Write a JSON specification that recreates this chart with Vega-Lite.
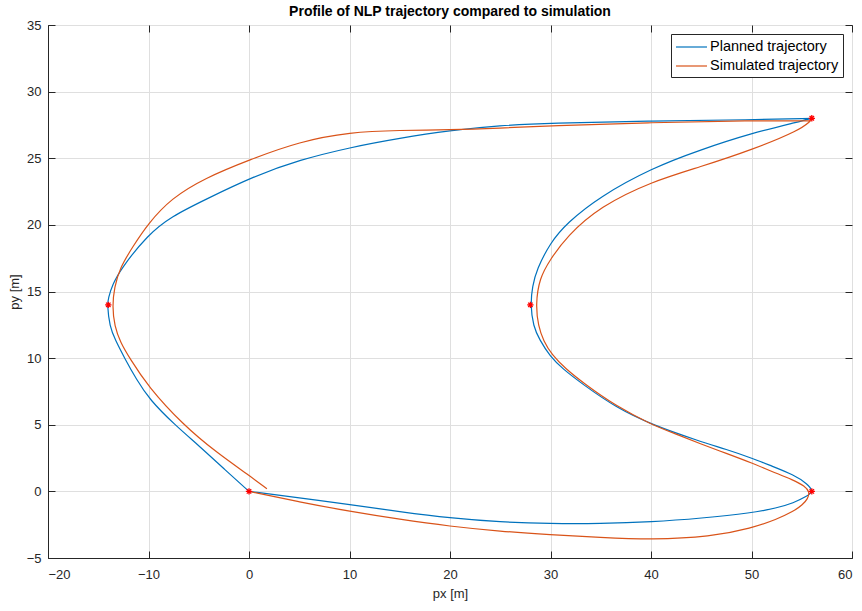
{
  "$schema": "https://vega.github.io/schema/vega-lite/v6.json",
  "width": 804,
  "height": 533,
  "autosize": "none",
  "padding": {"left": 48, "top": 25, "right": 10, "bottom": 53},
  "background": "white",
  "title": {"text": "Profile of NLP trajectory compared to simulation", "fontSize": 14, "font": "Liberation Sans", "fontWeight": "bold", "color": "#000000", "offset": 0, "anchor": "middle"},
  "config": {
    "view": {"stroke": "#262626", "strokeWidth": 1},
    "font": "Liberation Sans",
    "axis": {"labelFontSize": 13, "labelColor": "#262626", "domainColor": "#262626", "tickColor": "#262626", "gridColor": "#DFDFDF", "titleFontSize": 13, "titleFontWeight": "normal", "titleColor": "#262626", "labelFont": "Liberation Sans", "titleFont": "Liberation Sans"}
  },
  "datasets": {
    "traj": [
      {"s": "Planned trajectory", "i": 0, "x": 0, "y": 0},
      {"s": "Planned trajectory", "i": 1, "x": 5, "y": -0.48},
      {"s": "Planned trajectory", "i": 2, "x": 10.03, "y": -1.0},
      {"s": "Planned trajectory", "i": 3, "x": 15, "y": -1.52},
      {"s": "Planned trajectory", "i": 4, "x": 19.99, "y": -2.0},
      {"s": "Planned trajectory", "i": 5, "x": 25, "y": -2.3},
      {"s": "Planned trajectory", "i": 6, "x": 29.95, "y": -2.42},
      {"s": "Planned trajectory", "i": 7, "x": 34.93, "y": -2.42},
      {"s": "Planned trajectory", "i": 8, "x": 40.08, "y": -2.3},
      {"s": "Planned trajectory", "i": 9, "x": 45, "y": -2.02},
      {"s": "Planned trajectory", "i": 10, "x": 50.04, "y": -1.62},
      {"s": "Planned trajectory", "i": 11, "x": 52.5, "y": -1.25},
      {"s": "Planned trajectory", "i": 12, "x": 54.18, "y": -0.87},
      {"s": "Planned trajectory", "i": 13, "x": 55.52, "y": -0.37},
      {"s": "Planned trajectory", "i": 14, "x": 56.15, "y": 0},
      {"s": "Planned trajectory", "i": 15, "x": 55.6, "y": 0.55},
      {"s": "Planned trajectory", "i": 16, "x": 54.18, "y": 1.25},
      {"s": "Planned trajectory", "i": 17, "x": 52, "y": 1.9},
      {"s": "Planned trajectory", "i": 18, "x": 50.04, "y": 2.5},
      {"s": "Planned trajectory", "i": 19, "x": 47.5, "y": 3.15},
      {"s": "Planned trajectory", "i": 20, "x": 44.89, "y": 3.75},
      {"s": "Planned trajectory", "i": 21, "x": 40.08, "y": 5.0},
      {"s": "Planned trajectory", "i": 22, "x": 36.5, "y": 6.3},
      {"s": "Planned trajectory", "i": 23, "x": 33.27, "y": 8.0},
      {"s": "Planned trajectory", "i": 24, "x": 31.2, "y": 9.2},
      {"s": "Planned trajectory", "i": 25, "x": 29.95, "y": 10.13},
      {"s": "Planned trajectory", "i": 26, "x": 28.9, "y": 11.4},
      {"s": "Planned trajectory", "i": 27, "x": 28.29, "y": 12.38},
      {"s": "Planned trajectory", "i": 28, "x": 28.0, "y": 14.0},
      {"s": "Planned trajectory", "i": 29, "x": 28.2, "y": 15.4},
      {"s": "Planned trajectory", "i": 30, "x": 28.62, "y": 16.63},
      {"s": "Planned trajectory", "i": 31, "x": 29.95, "y": 18.63},
      {"s": "Planned trajectory", "i": 32, "x": 31.61, "y": 20.13},
      {"s": "Planned trajectory", "i": 33, "x": 34.92, "y": 22.13},
      {"s": "Planned trajectory", "i": 34, "x": 40.08, "y": 24.26},
      {"s": "Planned trajectory", "i": 35, "x": 44.89, "y": 25.63},
      {"s": "Planned trajectory", "i": 36, "x": 50.04, "y": 26.89},
      {"s": "Planned trajectory", "i": 37, "x": 54.8, "y": 27.76},
      {"s": "Planned trajectory", "i": 38, "x": 56, "y": 28},
      {"s": "Planned trajectory", "i": 39, "x": 56, "y": 28},
      {"s": "Planned trajectory", "i": 40, "x": 56, "y": 28},
      {"s": "Planned trajectory", "i": 41, "x": 50.04, "y": 27.88},
      {"s": "Planned trajectory", "i": 42, "x": 40.08, "y": 27.81},
      {"s": "Planned trajectory", "i": 43, "x": 29.95, "y": 27.64},
      {"s": "Planned trajectory", "i": 44, "x": 24.97, "y": 27.46},
      {"s": "Planned trajectory", "i": 45, "x": 19.99, "y": 27.08},
      {"s": "Planned trajectory", "i": 46, "x": 15.01, "y": 26.51},
      {"s": "Planned trajectory", "i": 47, "x": 10.03, "y": 25.81},
      {"s": "Planned trajectory", "i": 48, "x": 5.05, "y": 24.88},
      {"s": "Planned trajectory", "i": 49, "x": 0.57, "y": 23.68},
      {"s": "Planned trajectory", "i": 50, "x": -4.41, "y": 21.88},
      {"s": "Planned trajectory", "i": 51, "x": -7.73, "y": 20.63},
      {"s": "Planned trajectory", "i": 52, "x": -10.06, "y": 19.26},
      {"s": "Planned trajectory", "i": 53, "x": -12.7, "y": 16.76},
      {"s": "Planned trajectory", "i": 54, "x": -13.6, "y": 15.5},
      {"s": "Planned trajectory", "i": 55, "x": -14.0, "y": 14.5},
      {"s": "Planned trajectory", "i": 56, "x": -14.1, "y": 14.0},
      {"s": "Planned trajectory", "i": 57, "x": -13.87, "y": 12.38},
      {"s": "Planned trajectory", "i": 58, "x": -13.3, "y": 11.35},
      {"s": "Planned trajectory", "i": 59, "x": -12.38, "y": 10.0},
      {"s": "Planned trajectory", "i": 60, "x": -11.2, "y": 8.4},
      {"s": "Planned trajectory", "i": 61, "x": -9.89, "y": 6.88},
      {"s": "Planned trajectory", "i": 62, "x": -7.4, "y": 5.0},
      {"s": "Planned trajectory", "i": 63, "x": -4.91, "y": 3.38},
      {"s": "Planned trajectory", "i": 64, "x": -2.5, "y": 1.7},
      {"s": "Planned trajectory", "i": 65, "x": 0, "y": 0},
      {"s": "Simulated trajectory", "i": 0, "x": 0, "y": 0},
      {"s": "Simulated trajectory", "i": 1, "x": 5.05, "y": -0.8},
      {"s": "Simulated trajectory", "i": 2, "x": 10.03, "y": -1.5},
      {"s": "Simulated trajectory", "i": 3, "x": 15, "y": -2.1},
      {"s": "Simulated trajectory", "i": 4, "x": 19.99, "y": -2.62},
      {"s": "Simulated trajectory", "i": 5, "x": 25, "y": -3.0},
      {"s": "Simulated trajectory", "i": 6, "x": 29.95, "y": -3.25},
      {"s": "Simulated trajectory", "i": 7, "x": 34.93, "y": -3.45},
      {"s": "Simulated trajectory", "i": 8, "x": 40.08, "y": -3.62},
      {"s": "Simulated trajectory", "i": 9, "x": 45.9, "y": -3.42},
      {"s": "Simulated trajectory", "i": 10, "x": 50.04, "y": -2.75},
      {"s": "Simulated trajectory", "i": 11, "x": 52.5, "y": -2.1},
      {"s": "Simulated trajectory", "i": 12, "x": 54.18, "y": -1.5},
      {"s": "Simulated trajectory", "i": 13, "x": 55.1, "y": -1.0},
      {"s": "Simulated trajectory", "i": 14, "x": 55.6, "y": -0.55},
      {"s": "Simulated trajectory", "i": 15, "x": 55.8, "y": -0.05},
      {"s": "Simulated trajectory", "i": 16, "x": 55.3, "y": 0.4},
      {"s": "Simulated trajectory", "i": 17, "x": 54.18, "y": 0.85},
      {"s": "Simulated trajectory", "i": 18, "x": 52, "y": 1.5},
      {"s": "Simulated trajectory", "i": 19, "x": 50.04, "y": 2.13},
      {"s": "Simulated trajectory", "i": 20, "x": 47.5, "y": 2.85},
      {"s": "Simulated trajectory", "i": 21, "x": 44.89, "y": 3.58},
      {"s": "Simulated trajectory", "i": 22, "x": 42.5, "y": 4.3},
      {"s": "Simulated trajectory", "i": 23, "x": 40.08, "y": 5.0},
      {"s": "Simulated trajectory", "i": 24, "x": 36.5, "y": 6.4},
      {"s": "Simulated trajectory", "i": 25, "x": 33.27, "y": 8.13},
      {"s": "Simulated trajectory", "i": 26, "x": 31.5, "y": 9.2},
      {"s": "Simulated trajectory", "i": 27, "x": 30.12, "y": 10.26},
      {"s": "Simulated trajectory", "i": 28, "x": 29.3, "y": 11.3},
      {"s": "Simulated trajectory", "i": 29, "x": 28.79, "y": 12.38},
      {"s": "Simulated trajectory", "i": 30, "x": 28.52, "y": 14.0},
      {"s": "Simulated trajectory", "i": 31, "x": 28.9, "y": 16.0},
      {"s": "Simulated trajectory", "i": 32, "x": 29.95, "y": 17.38},
      {"s": "Simulated trajectory", "i": 33, "x": 31.61, "y": 19.13},
      {"s": "Simulated trajectory", "i": 34, "x": 34.92, "y": 21.38},
      {"s": "Simulated trajectory", "i": 35, "x": 40.08, "y": 23.26},
      {"s": "Simulated trajectory", "i": 36, "x": 44.89, "y": 24.35},
      {"s": "Simulated trajectory", "i": 37, "x": 50.04, "y": 25.63},
      {"s": "Simulated trajectory", "i": 38, "x": 54.85, "y": 27.13},
      {"s": "Simulated trajectory", "i": 39, "x": 55.85, "y": 27.8},
      {"s": "Simulated trajectory", "i": 40, "x": 55.85, "y": 27.8},
      {"s": "Simulated trajectory", "i": 41, "x": 55.85, "y": 27.8},
      {"s": "Simulated trajectory", "i": 42, "x": 50.04, "y": 27.83},
      {"s": "Simulated trajectory", "i": 43, "x": 40.08, "y": 27.68},
      {"s": "Simulated trajectory", "i": 44, "x": 29.95, "y": 27.43},
      {"s": "Simulated trajectory", "i": 45, "x": 24.97, "y": 27.26},
      {"s": "Simulated trajectory", "i": 46, "x": 19.99, "y": 27.13},
      {"s": "Simulated trajectory", "i": 47, "x": 15.01, "y": 27.1},
      {"s": "Simulated trajectory", "i": 48, "x": 10.03, "y": 26.96},
      {"s": "Simulated trajectory", "i": 49, "x": 5.05, "y": 26.26},
      {"s": "Simulated trajectory", "i": 50, "x": 0, "y": 24.88},
      {"s": "Simulated trajectory", "i": 51, "x": -4.41, "y": 23.51},
      {"s": "Simulated trajectory", "i": 52, "x": -7.73, "y": 22.0},
      {"s": "Simulated trajectory", "i": 53, "x": -10.06, "y": 20.08},
      {"s": "Simulated trajectory", "i": 54, "x": -11.55, "y": 18.38},
      {"s": "Simulated trajectory", "i": 55, "x": -12.86, "y": 16.76},
      {"s": "Simulated trajectory", "i": 56, "x": -13.4, "y": 15.3},
      {"s": "Simulated trajectory", "i": 57, "x": -13.6, "y": 13.9},
      {"s": "Simulated trajectory", "i": 58, "x": -13.38, "y": 12.38},
      {"s": "Simulated trajectory", "i": 59, "x": -12.8, "y": 11.2},
      {"s": "Simulated trajectory", "i": 60, "x": -11.88, "y": 10.0},
      {"s": "Simulated trajectory", "i": 61, "x": -10.06, "y": 7.88},
      {"s": "Simulated trajectory", "i": 62, "x": -6.57, "y": 5.0},
      {"s": "Simulated trajectory", "i": 63, "x": -3.2, "y": 2.9},
      {"s": "Simulated trajectory", "i": 64, "x": 0, "y": 1.2},
      {"s": "Simulated trajectory", "i": 65, "x": 1.78, "y": 0.2}
    ],
    "wp": [
      {"x": 0, "y": 0},
      {"x": 56, "y": 0},
      {"x": 28, "y": 14},
      {"x": 56, "y": 28},
      {"x": -14, "y": 14}
    ]
  },
  "layer": [
    {
      "data": {"name": "traj"},
      "mark": {"type": "line", "strokeWidth": 1.2, "interpolate": "basis"},
      "encoding": {
        "x": {"field": "x", "type": "quantitative", "scale": {"domain": [-20, 60], "nice": false, "zero": false},
              "axis": {"orient": "bottom", "title": "px [m]", "values": [-20, -10, 0, 10, 20, 30, 40, 50, 60], "tickSize": -7, "labelPadding": 17, "titlePadding": 6, "grid": true}},
        "y": {"field": "y", "type": "quantitative", "scale": {"domain": [-5, 35], "nice": false, "zero": false},
              "axis": {"orient": "left", "title": "py [m]", "values": [-5, 0, 5, 10, 15, 20, 25, 30, 35], "tickSize": -7, "labelPadding": 14, "titlePadding": 5, "grid": true}},
        "color": {"field": "s", "type": "nominal",
                  "scale": {"domain": ["Planned trajectory", "Simulated trajectory"], "range": ["#0072BD", "#D95319"]},
                  "legend": {"title": null, "orient": "top-right", "offset": 9, "strokeColor": "#262626", "fillColor": "white", "padding": 4, "symbolType": "M-1,0L2.875,0", "symbolSize": 256, "symbolStrokeWidth": 1.2, "labelOffset": 17, "labelFontSize": 14.5, "labelColor": "#000000", "labelFont": "Liberation Sans", "rowPadding": 3}},
        "order": {"field": "i", "type": "quantitative"}
      }
    },
    {
      "data": {"name": "wp"},
      "mark": {"type": "point", "shape": "M-1,0L1,0M0,-1L0,1M-0.7,-0.7L0.7,0.7M-0.7,0.7L0.7,-0.7", "filled": false, "stroke": "#FF0000", "strokeWidth": 1.3, "size": 40, "opacity": 1},
      "encoding": {
        "x": {"field": "x", "type": "quantitative", "axis": {"orient": "top", "title": null, "labels": false, "grid": false, "values": [-20, -10, 0, 10, 20, 30, 40, 50, 60], "tickSize": -7, "domain": false}},
        "y": {"field": "y", "type": "quantitative", "axis": {"orient": "right", "title": null, "labels": false, "grid": false, "values": [-5, 0, 5, 10, 15, 20, 25, 30, 35], "tickSize": -7, "domain": false}}
      }
    }
  ]
}
